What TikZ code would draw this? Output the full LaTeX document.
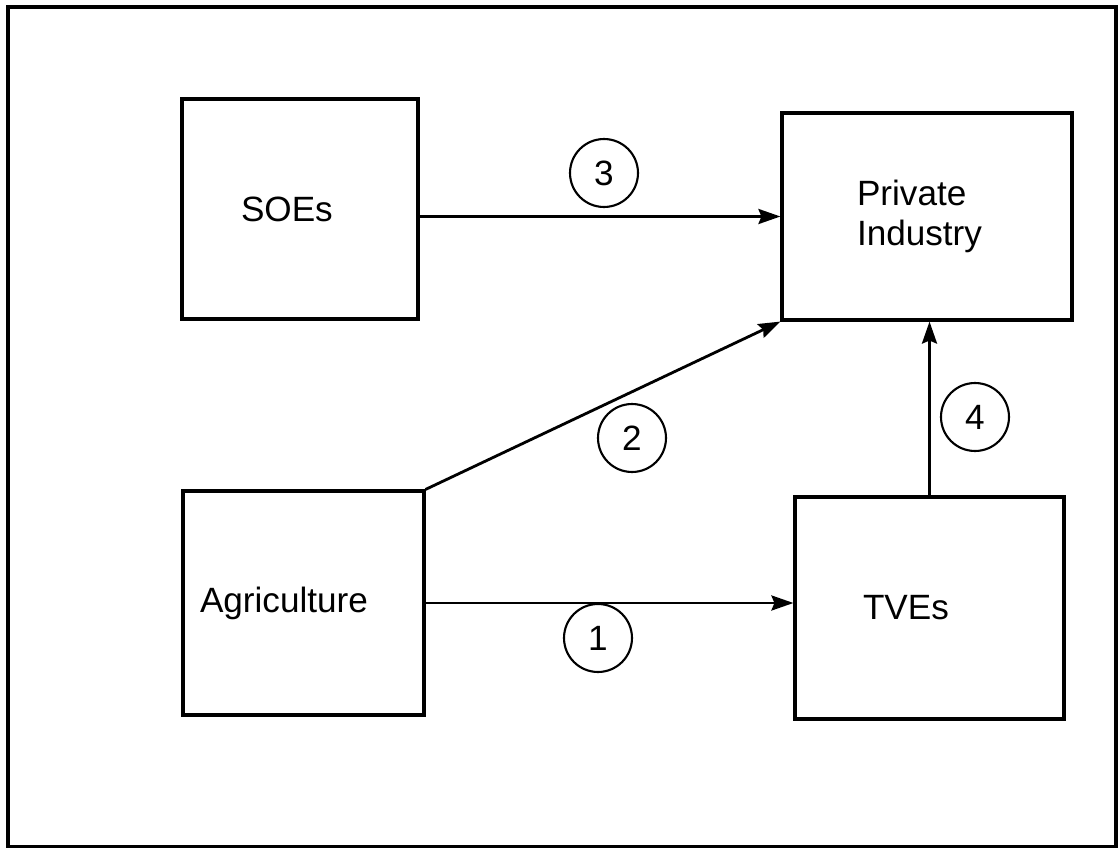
\documentclass[tikz,border=0pt]{standalone}
\usepackage{fontspec}
\setmainfont{Liberation Sans}
\usetikzlibrary{arrows.meta}
\begin{document}
\begin{tikzpicture}[x=0.02cm,y=-0.02cm,font=\fontsize{20}{23}\selectfont,
  box/.style={draw,line width=1.8pt,align=left,inner ysep=0pt},
  num/.style={draw,circle,line width=1.2pt,minimum size=1.36cm,inner sep=0pt},
  flow/.style={line width=1.6pt,-{Stealth[length=0.44cm,width=0.3cm,inset=0.06cm]}}]
\useasboundingbox (0,0) rectangle (1120,848);
\draw[line width=1.8pt] (8,7) rectangle (1116,847);
\node[box,minimum height=4.4cm,inner xsep=1.18cm,text width=2.36cm] (soe) at (300,209) {SOEs};
\node[box,minimum height=4.14cm,inner xsep=1.5cm,text width=2.8cm] (pi) at (927,216.5) {Private\\Industry};
\node[box,minimum height=4.48cm,inner xsep=0.34cm,text width=4.14cm] (agri) at (303.5,603) {Agriculture};
\node[box,minimum height=4.44cm,inner xsep=1.36cm,text width=2.66cm] (tves) at (929.5,608) {TVEs};
\draw[flow] (agri.east) -- (agri.east -| tves.west);
\draw[flow] (agri.north east) -- (pi.south west);
\draw[flow] (pi.west -| soe.east) -- (pi.west);
\draw[flow] (tves.north) -- (pi.south -| tves.north);
\foreach \n/\x/\y in {1/598/638,2/632/438,3/604/173,4/975/417}
  \node[num] (c\n) at (\x,\y) {\n};
\end{tikzpicture}
\end{document}
